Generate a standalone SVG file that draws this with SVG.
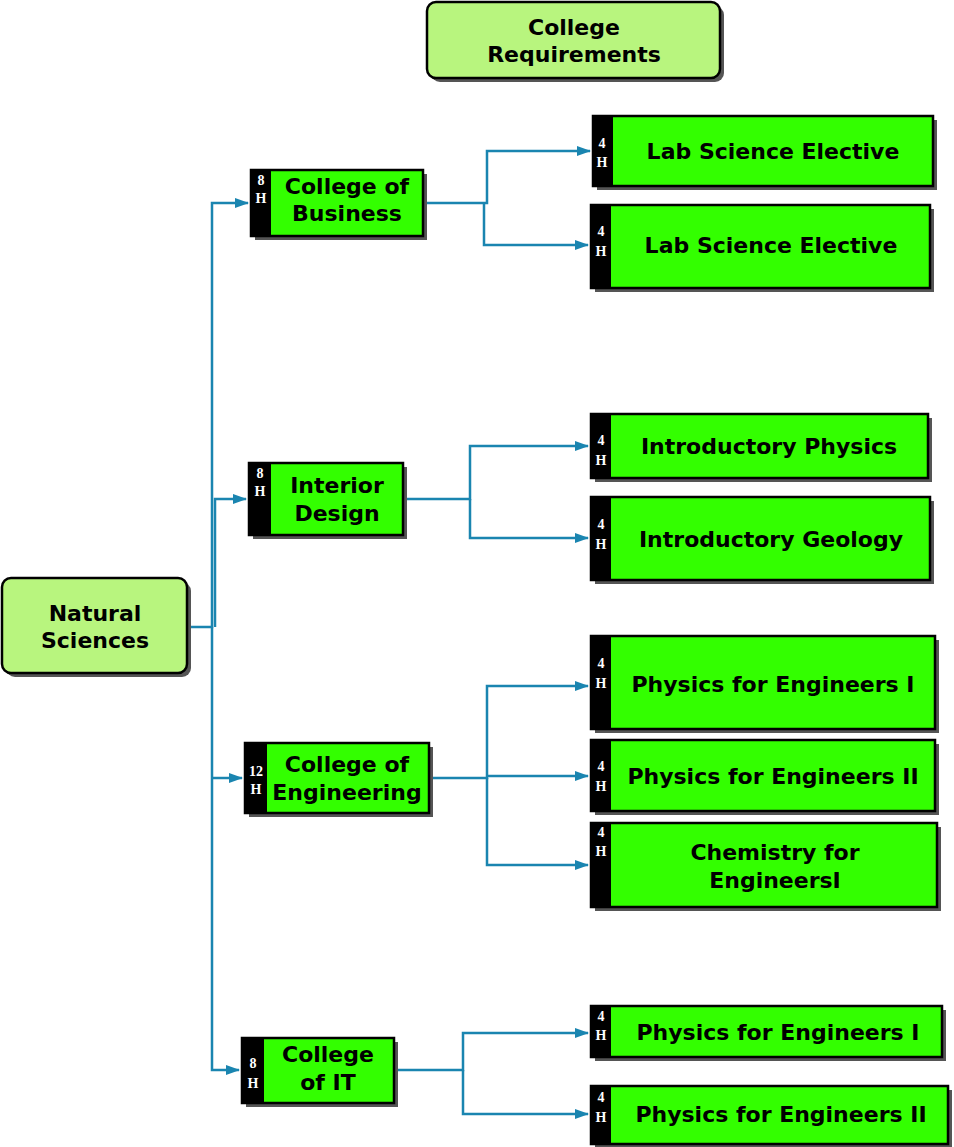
<svg xmlns="http://www.w3.org/2000/svg" width="954" height="1147" viewBox="0 0 954 1147">
<style>
.r{fill:#b8f57e;stroke:#000;stroke-width:2.5}
.g{fill:#33ff00;stroke:#000;stroke-width:2.5}
.s{fill:#555}
.k{fill:#000}
.t{font-family:"DejaVu Sans",Verdana,sans-serif;font-weight:bold;font-size:22px;fill:#000;text-anchor:middle}
.h{font-family:"Liberation Serif",serif;font-weight:bold;font-size:14px;fill:#fff;text-anchor:middle}
.c{fill:none;stroke:#1a85b0;stroke-width:2.5}
</style>
<defs><marker id="a" markerWidth="14" markerHeight="10" refX="13" refY="5" orient="auto" markerUnits="userSpaceOnUse"><path d="M0,0L14,5L0,10z" fill="#1a85b0"/></marker></defs>
<g id="connectors">
<path class="c" d="M187,627H212V203H248" marker-end="url(#a)"/>
<path class="c" d="M212,627V1070H239" marker-end="url(#a)"/>
<path class="c" d="M215,627V499H246" marker-end="url(#a)"/>
<path class="c" d="M212,778H242" marker-end="url(#a)"/>
<path class="c" d="M423,203H487V151H590" marker-end="url(#a)"/>
<path class="c" d="M484,203V245H588" marker-end="url(#a)"/>
<path class="c" d="M403,499H470V446H588" marker-end="url(#a)"/>
<path class="c" d="M470,499V538H588" marker-end="url(#a)"/>
<path class="c" d="M429,778H487V686H588" marker-end="url(#a)"/>
<path class="c" d="M487,776H588" marker-end="url(#a)"/>
<path class="c" d="M487,778V865H588" marker-end="url(#a)"/>
<path class="c" d="M394,1070H463V1033H588" marker-end="url(#a)"/>
<path class="c" d="M463,1070V1114H588" marker-end="url(#a)"/>
</g>
<g id="req"><rect class="s" x="431" y="6" width="293" height="76" rx="9"/><rect class="r" x="427" y="2" width="293" height="76" rx="9"/><text class="t" x="574" y="35">College</text><text class="t" x="574" y="62">Requirements</text></g>
<g id="ns"><rect class="s" x="6" y="582" width="185" height="95" rx="9"/><rect class="r" x="2" y="578" width="185" height="95" rx="9"/><text class="t" x="95" y="621">Natural</text><text class="t" x="95" y="648">Sciences</text></g>
<g id="bus"><rect class="s" x="255" y="174" width="172" height="66"/><rect class="g" x="251" y="170" width="172" height="66"/><rect class="k" x="251" y="170" width="20" height="66"/><text class="h" x="261" y="185">8</text><text class="h" x="261" y="203">H</text><text class="t" x="347" y="194">College of</text><text class="t" x="347" y="221">Business</text></g>
<g id="int"><rect class="s" x="253" y="467" width="154" height="72"/><rect class="g" x="249" y="463" width="154" height="72"/><rect class="k" x="249" y="463" width="22" height="72"/><text class="h" x="260" y="478">8</text><text class="h" x="260" y="496">H</text><text class="t" x="337" y="493">Interior</text><text class="t" x="337" y="521">Design</text></g>
<g id="eng"><rect class="s" x="249" y="747" width="184" height="70"/><rect class="g" x="245" y="743" width="184" height="70"/><rect class="k" x="245" y="743" width="22" height="70"/><text class="h" x="256" y="776">12</text><text class="h" x="256" y="794">H</text><text class="t" x="347" y="772">College of</text><text class="t" x="347" y="800">Engineering</text></g>
<g id="it"><rect class="s" x="246" y="1042" width="152" height="65"/><rect class="g" x="242" y="1038" width="152" height="65"/><rect class="k" x="242" y="1038" width="22" height="65"/><text class="h" x="253" y="1068">8</text><text class="h" x="253" y="1088">H</text><text class="t" x="328" y="1062">College</text><text class="t" x="328" y="1090">of IT</text></g>
<g id="lab1"><rect class="s" x="597" y="120" width="340" height="70"/><rect class="g" x="593" y="116" width="340" height="70"/><rect class="k" x="593" y="116" width="20" height="70"/><text class="h" x="602" y="148">4</text><text class="h" x="602" y="167">H</text><text class="t" x="773" y="159">Lab Science Elective</text></g>
<g id="lab2"><rect class="s" x="595" y="209" width="339" height="83"/><rect class="g" x="591" y="205" width="339" height="83"/><rect class="k" x="591" y="205" width="20" height="83"/><text class="h" x="601" y="236">4</text><text class="h" x="601" y="256">H</text><text class="t" x="771" y="253">Lab Science Elective</text></g>
<g id="phys"><rect class="s" x="595" y="418" width="337" height="64"/><rect class="g" x="591" y="414" width="337" height="64"/><rect class="k" x="591" y="414" width="20" height="64"/><text class="h" x="601" y="445">4</text><text class="h" x="601" y="465">H</text><text class="t" x="769" y="454">Introductory Physics</text></g>
<g id="geo"><rect class="s" x="595" y="501" width="339" height="83"/><rect class="g" x="591" y="497" width="339" height="83"/><rect class="k" x="591" y="497" width="20" height="83"/><text class="h" x="601" y="529">4</text><text class="h" x="601" y="549">H</text><text class="t" x="771" y="547">Introductory Geology</text></g>
<g id="pe1"><rect class="s" x="595" y="640" width="344" height="93"/><rect class="g" x="591" y="636" width="344" height="93"/><rect class="k" x="591" y="636" width="20" height="93"/><text class="h" x="601" y="668">4</text><text class="h" x="601" y="688">H</text><text class="t" x="773" y="692">Physics for Engineers I</text></g>
<g id="pe2"><rect class="s" x="595" y="744" width="344" height="71"/><rect class="g" x="591" y="740" width="344" height="71"/><rect class="k" x="591" y="740" width="20" height="71"/><text class="h" x="601" y="771">4</text><text class="h" x="601" y="791">H</text><text class="t" x="773" y="784">Physics for Engineers II</text></g>
<g id="chem"><rect class="s" x="595" y="827" width="346" height="84"/><rect class="g" x="591" y="823" width="346" height="84"/><rect class="k" x="591" y="823" width="20" height="84"/><text class="h" x="601" y="837">4</text><text class="h" x="601" y="856">H</text><text class="t" x="775" y="860">Chemistry for</text><text class="t" x="775" y="888">EngineersI</text></g>
<g id="pe3"><rect class="s" x="595" y="1010" width="351" height="51"/><rect class="g" x="591" y="1006" width="351" height="51"/><rect class="k" x="591" y="1006" width="20" height="51"/><text class="h" x="601" y="1021">4</text><text class="h" x="601" y="1040">H</text><text class="t" x="778" y="1040">Physics for Engineers I</text></g>
<g id="pe4"><rect class="s" x="595" y="1090" width="357" height="58"/><rect class="g" x="591" y="1086" width="357" height="58"/><rect class="k" x="591" y="1086" width="20" height="58"/><text class="h" x="601" y="1102">4</text><text class="h" x="601" y="1122">H</text><text class="t" x="781" y="1122">Physics for Engineers II</text></g>
</svg>
